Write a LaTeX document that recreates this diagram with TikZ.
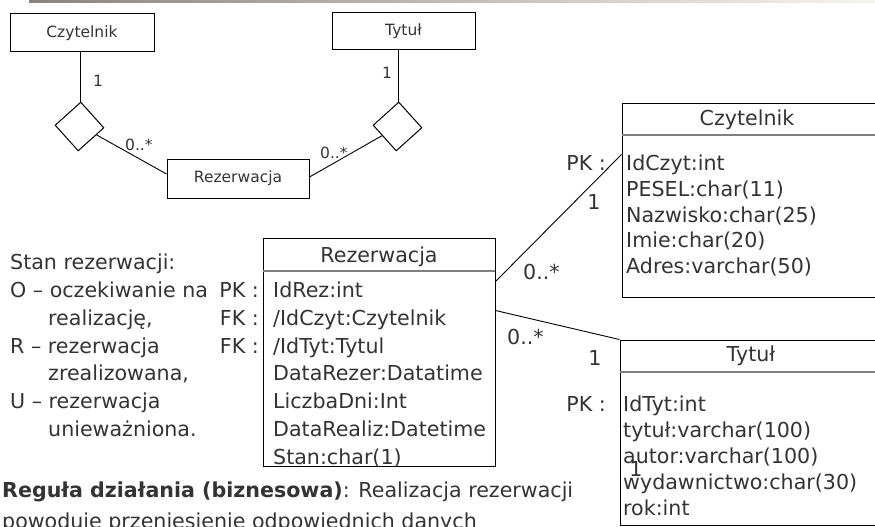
\documentclass[tikz,border=0pt]{standalone}
\usepackage{fontspec}
\setmainfont{DejaVu Sans}
\usetikzlibrary{shapes.geometric,calc}
\definecolor{tc}{RGB}{51,51,51}
\definecolor{sepc}{RGB}{128,128,128}
\definecolor{barl}{RGB}{140,132,124}
\definecolor{barr}{RGB}{246,244,241}
\tikzset{
  big/.style={font=\fontsize{20.6}{27}\selectfont, text=tc, inner sep=0pt},
  sml/.style={font=\fontsize{15.5}{18}\selectfont, text=tc, inner sep=0pt},
  sbox/.style={draw=black, line width=1pt, sml, rectangle},
  bbox/.style={draw=black, line width=1pt, rectangle, inner sep=0pt},
  sepl/.style={draw=sepc, line width=2pt},
  conn/.style={draw=black, line width=0.9pt},
  dia/.style={draw=black, line width=1pt, diamond, inner sep=0pt, minimum width=49pt, minimum height=49pt, rotate=-3}
}
\begin{document}
\begin{tikzpicture}[x=1pt,y=-1pt]
\useasboundingbox (0,0) rectangle (875,527);
\clip (0,0) rectangle (875,527);
\fill[left color=barl, right color=barr] (29,0) rectangle (875,3);

% small diagram
\node[sbox, minimum width=144pt, minimum height=38pt] (czS) at (82,33) {Czytelnik};
\node[sbox, minimum width=143pt, minimum height=37pt] (tyS) at (403.5,31.5) {Tytuł};
\node[sbox, minimum width=142pt, minimum height=39pt] (rezS) at (238,178.5) {Rezerwacja};
\node[dia] (d1) at (79.5,126.5) {};
\node[dia] (d2) at (397.5,126.5) {};
\draw[conn] (d1.north) -- (d1.north |- czS.south);
\draw[conn] (d2.north) -- (d2.north |- tyS.south);
\draw[conn] ($(d1.east)!0.3!(d1.south)$) -- ($(rezS.west)+(0,-4.5)$);
\draw[conn] ($(d2.west)!0.4!(d2.south)$) -- ($(rezS.east)+(0,-1.5)$);
\node[sml, anchor=base] (l1) at (98,86) {1};
\node[sml, anchor=base] (l2) at (387,78) {1};
\node[sml, anchor=base west] (l3) at (125,150) {0..*};
\node[sml, anchor=base west] (l4) at (320,158) {0..*};

% left legend
\node[big, anchor=base west] (s0) at (10,269.7) {Stan rezerwacji:};
\node[big, anchor=base west] (s1) at (10,297.5) {O – oczekiwanie na};
\node[big, anchor=base west] (s2) at (48,325.3) {realizację,};
\node[big, anchor=base west] (s3) at (10,353.1) {R – rezerwacja};
\node[big, anchor=base west] (s4) at (48,380.9) {zrealizowana,};
\node[big, anchor=base west] (s5) at (10,408.7) {U – rezerwacja};
\node[big, anchor=base west] (s6) at (48,436.5) {unieważniona.};

% Rezerwacja class
\node[bbox, minimum width=232pt, minimum height=228pt] (rez) at (379,352) {};
\draw[sepl] ($(rez.north west)+(0.5,33)$) -- ($(rez.north east)+(-0.5,33)$);
\node[big] (rezt) at (379,256.5) {Rezerwacja};
\node[big, anchor=base west] (r1) at (273,297.5) {IdRez:int};
\node[big, anchor=base west] (r2) at (273,325.3) {/IdCzyt:Czytelnik};
\node[big, anchor=base west] (r3) at (273,353.1) {/IdTyt:Tytul};
\node[big, anchor=base west] (r4) at (273,380.9) {DataRezer:Datatime};
\node[big, anchor=base west] (r5) at (273,408.7) {LiczbaDni:Int};
\node[big, anchor=base west] (r6) at (273,436.5) {DataRealiz:Datetime};
\node[big, anchor=base west] (r7) at (273,464.3) {Stan:char(1)};
\node[big, anchor=base east] (k1) at (259,297.5) {PK :};
\node[big, anchor=base east] (k2) at (259,325.3) {FK :};
\node[big, anchor=base east] (k3) at (259,353.1) {FK :};

% Czytelnik class
\node[bbox, minimum width=263pt, minimum height=194pt] (czB) at (753.5,200) {};
\draw[sepl] ($(czB.north west)+(0.5,32)$) -- ($(czB.north east)+(0,32)$);
\node[big] (czt) at (747,120) {Czytelnik};
\node[big, anchor=base west] (c1) at (626,170.5) {IdCzyt:int};
\node[big, anchor=base west] (c2) at (626,196.3) {PESEL:char(11)};
\node[big, anchor=base west] (c3) at (626,222.1) {Nazwisko:char(25)};
\node[big, anchor=base west] (c4) at (626,247.9) {Imie:char(20)};
\node[big, anchor=base west] (c5) at (626,273.7) {Adres:varchar(50)};
\node[big, anchor=base east] (cpk) at (606,170.5) {PK :};

% Tytul class
\node[bbox, minimum width=265pt, minimum height=185pt] (tyB) at (752.5,432.5) {};
\draw[sepl] ($(tyB.north west)+(0.5,32)$) -- ($(tyB.north east)+(0,32)$);
\node[big] (tyt) at (751,356) {Tytuł};
\node[big, anchor=base west] (t1) at (623,411.5) {IdTyt:int};
\node[big, anchor=base west] (t2) at (623,437.6) {tytuł:varchar(100)};
\node[big, anchor=base west] (t3) at (623,463.7) {autor:varchar(100)};
\node[big, anchor=base west] (t4) at (623,489.8) {wydawnictwo:char(30)};
\node[big, anchor=base west] (t5) at (623,515.9) {rok:int};
\node[big, anchor=base east] (tpk) at (606,411.5) {PK :};
\node[big, anchor=base] (tone) at (636,476.5) {1};

% connectors between classes
\draw[conn] ($(rez.north east)+(0,44)$) -- ($(czB.north west)+(0,52)$);
\draw[conn] ($(rez.north east)+(0,73)$) -- (tyB.north west);
\node[big, anchor=base] (m1) at (594,209.5) {1};
\node[big, anchor=base west] (m2) at (523,279.5) {0..*};
\node[big, anchor=base west] (m3) at (507,344.5) {0..*};
\node[big, anchor=base] (m4) at (595,365.5) {1};

% business rule
\node[big, anchor=base west] (b1) at (2,497) {\textbf{Reguła działania (biznesowa)}: Realizacja rezerwacji};
\node[big, anchor=base west] (b2) at (2,528) {powoduje przeniesienie odpowiednich danych};
\end{tikzpicture}
\end{document}
